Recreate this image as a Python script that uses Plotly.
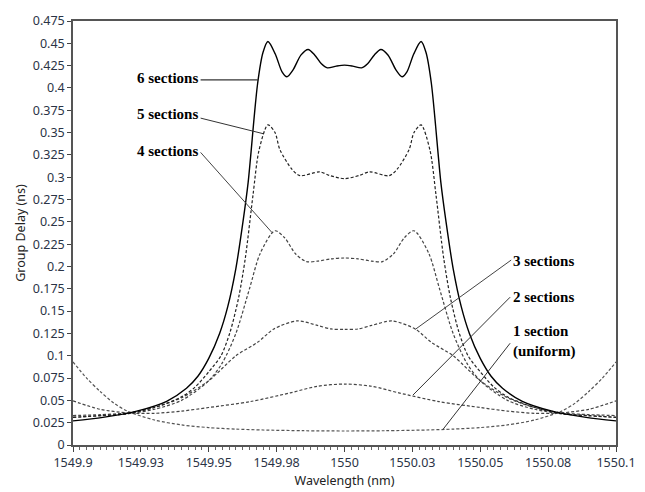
import plotly.graph_objects as go

# ---- data ----
x6 = [1549.900, 1549.911, 1549.9235, 1549.9345, 1549.9418, 1549.946, 1549.950, 1549.954, 1549.957,
      1549.960, 1549.9626, 1549.9645, 1549.968, 1549.970, 1549.9718, 1549.9745, 1549.977, 1549.9788,
      1549.981, 1549.984, 1549.9866, 1549.989, 1549.9915, 1549.9937, 1549.997, 1550.000,
      1550.003, 1550.0063, 1550.0085, 1550.011, 1550.0134, 1550.016, 1550.019, 1550.0212,
      1550.023, 1550.0255, 1550.0282, 1550.030, 1550.032, 1550.0355, 1550.0374, 1550.040, 1550.043,
      1550.046, 1550.050, 1550.054, 1550.0582, 1550.0655, 1550.0765, 1550.089, 1550.100]
y6 = [0.027, 0.031, 0.038, 0.049, 0.0636, 0.077, 0.097, 0.125, 0.155,
      0.198, 0.25, 0.294, 0.405, 0.44, 0.452, 0.438, 0.418, 0.4125,
      0.42, 0.437, 0.443, 0.437, 0.427, 0.4225, 0.4245, 0.4256,
      0.4245, 0.4225, 0.427, 0.437, 0.443, 0.437, 0.42, 0.4125,
      0.418, 0.438, 0.452, 0.44, 0.405, 0.294, 0.25, 0.198, 0.155,
      0.125, 0.097, 0.077, 0.0636, 0.049, 0.038, 0.031, 0.027]

x5 = [1549.900, 1549.910, 1549.920, 1549.930, 1549.940, 1549.945, 1549.950, 1549.9545, 1549.9578,
      1549.961, 1549.9635, 1549.9663, 1549.9685, 1549.9718, 1549.9744, 1549.9762, 1549.9806,
      1549.9836, 1549.9908, 1549.9945, 1550.000,
      1550.0055, 1550.0092, 1550.0164, 1550.0194, 1550.0238, 1550.0256, 1550.0282, 1550.0315,
      1550.0337, 1550.0365, 1550.039, 1550.0422, 1550.0455, 1550.050, 1550.055, 1550.060,
      1550.070, 1550.080, 1550.090, 1550.100]
y5 = [0.031, 0.033, 0.035, 0.042, 0.054, 0.065, 0.082, 0.10, 0.126,
      0.165, 0.21, 0.28, 0.33, 0.3587, 0.35, 0.331, 0.309,
      0.3017, 0.306, 0.302, 0.2984,
      0.302, 0.306, 0.3017, 0.309, 0.331, 0.35, 0.3587, 0.33,
      0.28, 0.21, 0.165, 0.126, 0.10, 0.082, 0.065, 0.054,
      0.042, 0.035, 0.033, 0.031]

x4 = [1549.900, 1549.920, 1549.930, 1549.940, 1549.950, 1549.955, 1549.960, 1549.965, 1549.969,
      1549.9744, 1549.978, 1549.982, 1549.986, 1549.990, 1549.995, 1550.000,
      1550.005, 1550.010, 1550.014, 1550.018, 1550.022, 1550.0256, 1550.031, 1550.035, 1550.040,
      1550.045, 1550.050, 1550.060, 1550.070, 1550.080, 1550.100]
y4 = [0.031, 0.035, 0.040, 0.050, 0.072, 0.092, 0.125, 0.175, 0.215,
      0.240, 0.232, 0.214, 0.2055, 0.206, 0.2085, 0.2095,
      0.2085, 0.206, 0.2055, 0.214, 0.232, 0.240, 0.215, 0.175, 0.125,
      0.092, 0.072, 0.050, 0.040, 0.035, 0.031]

x3 = [1549.900, 1549.910, 1549.920, 1549.930, 1549.940, 1549.950, 1549.960, 1549.968, 1549.974,
      1549.9825, 1549.990, 1549.995, 1550.000,
      1550.005, 1550.010, 1550.0175, 1550.026, 1550.032, 1550.040, 1550.050, 1550.060, 1550.070,
      1550.080, 1550.090, 1550.100]
y3 = [0.033, 0.034, 0.036, 0.042, 0.053, 0.072, 0.100, 0.115, 0.130,
      0.139, 0.134, 0.130, 0.1295,
      0.130, 0.134, 0.139, 0.130, 0.115, 0.100, 0.072, 0.053, 0.042,
      0.036, 0.034, 0.033]

x2 = [1549.900, 1549.910, 1549.920, 1549.930, 1549.940, 1549.950, 1549.9652, 1549.980, 1549.990,
      1550.000, 1550.010, 1550.020, 1550.0348, 1550.050, 1550.060, 1550.070, 1550.080, 1550.090,
      1550.100]
y2 = [0.0494, 0.040, 0.036, 0.0355, 0.038, 0.042, 0.0486, 0.0584, 0.0658,
      0.0683, 0.0658, 0.0584, 0.0486, 0.042, 0.038, 0.0355, 0.036, 0.040,
      0.0494]

x1 = [1549.900, 1549.905, 1549.910, 1549.915, 1549.920, 1549.930, 1549.940, 1549.950, 1549.960,
      1549.970, 1549.985, 1550.000, 1550.015, 1550.030, 1550.040, 1550.050, 1550.060, 1550.070,
      1550.080, 1550.085, 1550.090, 1550.095, 1550.100]
y1 = [0.093, 0.075, 0.060, 0.047, 0.038, 0.028, 0.0225, 0.0195, 0.0178,
      0.0168, 0.016, 0.0157, 0.016, 0.0168, 0.0178, 0.0195, 0.0225, 0.028,
      0.038, 0.047, 0.060, 0.075, 0.093]

x_tickvals = [1549.9, 1549.925, 1549.95, 1549.975, 1550.0, 1550.025, 1550.05, 1550.075, 1550.1]
x_ticktext = ["1549.9", "1549.93", "1549.95", "1549.98", "1550", "1550.03", "1550.05", "1550.08", "1550.1"]

labels = ["6 sections", "5 sections", "4 sections", "3 sections", "2 sections", "1 section<br>(uniform)"]
label_x = [1549.9236, 1549.9236, 1549.9236, 1550.0621, 1550.0621, 1550.0621]
label_y = [0.411, 0.3704, 0.3298, 0.206, 0.1654, 0.116]
leader_x0 = [1549.9470, 1549.9470, 1549.9470, 1550.0614, 1550.061, 1550.061]
leader_y0 = [0.409, 0.3662, 0.3278, 0.2072, 0.1656, 0.114]
leader_x1 = [1549.968, 1549.970, 1549.9733, 1550.026, 1550.0252, 1550.0363]
leader_y1 = [0.409, 0.3488, 0.238, 0.1294, 0.0559, 0.0176]
leader_col = ["#000000", "#333333", "#444444", "#444444", "#333333", "#333333"]

fig = go.Figure()
dash = "3px,2px"
series = [
    (x1, y1, "1 section", "#555555", dash, 1.2),
    (x2, y2, "2 sections", "#444444", dash, 1.2),
    (x3, y3, "3 sections", "#444444", dash, 1.2),
    (x4, y4, "4 sections", "#444444", dash, 1.2),
    (x5, y5, "5 sections", "#222222", dash, 1.2),
    (x6, y6, "6 sections", "#000000", "solid", 1.4),
]
for xs, ys, nm, col, ds, w in series:
    fig.add_trace(go.Scatter(x=xs, y=ys, name=nm, mode="lines",
                             line=dict(color=col, width=w, dash=ds, shape="spline", smoothing=0.8),
                             showlegend=False))

for i in range(len(labels)):
    fig.add_shape(type="line", xref="x", yref="y",
                  x0=leader_x0[i], y0=leader_y0[i], x1=leader_x1[i], y1=leader_y1[i],
                  line=dict(color=leader_col[i], width=1))
    fig.add_annotation(x=label_x[i], y=label_y[i], text="<b>" + labels[i] + "</b>",
                       showarrow=False, xanchor="left", yanchor="middle", align="left",
                       xshift=-2,
                       font=dict(family="Liberation Serif", size=15, color="#000000"))

axis_font = dict(family="Noto Sans", size=12.5, color="#2b3446")
fig.update_layout(
    width=637, height=484,
    margin=dict(l=65, r=29, t=4, b=47),
    paper_bgcolor="white", plot_bgcolor="white",
    xaxis=dict(range=[1549.9, 1550.1], tickmode="array", tickvals=x_tickvals, ticktext=x_ticktext,
               ticks="outside", ticklen=5, tickcolor="#444", showgrid=False, zeroline=False,
               showline=True, linecolor="#555", linewidth=1.5, mirror=True,
               minor=dict(dtick=0.0025, ticks="outside", ticklen=3, tickcolor="#666", showgrid=False),
               tickfont=axis_font, ticklabeloverflow="allow",
               title=dict(text="Wavelength (nm)", font=dict(family="Noto Sans", size=12.5, color="#222"), standoff=6)),
    yaxis=dict(range=[0, 0.475], tickmode="linear", tick0=0, dtick=0.025,
               ticks="outside", ticklen=4, tickcolor="#444", showgrid=False, zeroline=False,
               showline=True, linecolor="#555", linewidth=1.5, mirror=True,
               tickfont=axis_font, ticklabeloverflow="allow",
               title=dict(text="Group Delay (ns)", font=dict(family="Noto Sans", size=12.5, color="#222"), standoff=4)),
)

fig.write_html("out.html")
